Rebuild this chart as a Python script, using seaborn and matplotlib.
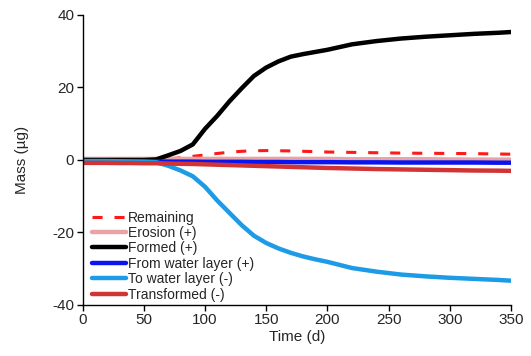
import numpy as np
import pandas as pd
import matplotlib
matplotlib.use("Agg")
import matplotlib.pyplot as plt
import seaborn as sns

# ----------------------------
# Data
# ----------------------------
time = [0, 10, 20, 30, 40, 50, 60, 70, 80, 90, 100, 110, 120, 130, 140, 150,
        160, 170, 180, 190, 200, 220, 240, 260, 280, 300, 320, 340, 350]

remaining = [0.0, 0.0, 0.0, 0.0, 0.0, 0.0, 0.0, 0.3, 0.6, 1.0, 1.4, 1.8, 2.15,
             2.4, 2.55, 2.6, 2.55, 2.5, 2.4, 2.3, 2.2, 2.1, 2.0, 1.9, 1.85,
             1.8, 1.75, 1.65, 1.6]
erosion = [0.3, 0.3, 0.3, 0.3, 0.3, 0.3, 0.3, 0.3, 0.3, 0.3, 0.3, 0.3, 0.3,
           0.3, 0.3, 0.3, 0.3, 0.3, 0.3, 0.3, 0.3, 0.2, 0.2, 0.2, 0.2, 0.15,
           0.1, 0.1, 0.1]
formed = [0.0, 0.0, 0.0, 0.0, 0.0, 0.0, 0.15, 1.3, 2.5, 4.3, 8.6, 12.2, 16.2,
          19.8, 23.2, 25.5, 27.2, 28.5, 29.2, 29.8, 30.4, 31.9, 32.8, 33.5,
          34.0, 34.4, 34.8, 35.1, 35.3]
from_water = [-0.4, -0.4, -0.4, -0.4, -0.4, -0.4, -0.4, -0.45, -0.45, -0.45,
              -0.5, -0.5, -0.5, -0.5, -0.55, -0.55, -0.55, -0.6, -0.6, -0.6,
              -0.6, -0.65, -0.65, -0.7, -0.7, -0.7, -0.7, -0.75, -0.75]
to_water = [-0.3, -0.3, -0.3, -0.35, -0.4, -0.45, -0.6, -1.6, -2.9, -4.5,
            -7.4, -11.2, -14.6, -18.0, -20.9, -22.9, -24.4, -25.6, -26.6,
            -27.4, -28.1, -29.8, -30.8, -31.6, -32.1, -32.5, -32.8, -33.1,
            -33.3]
transformed = [-0.8, -0.8, -0.8, -0.85, -0.85, -0.9, -0.9, -1.0, -1.05, -1.1,
               -1.2, -1.3, -1.4, -1.5, -1.6, -1.7, -1.8, -1.9, -2.0, -2.1,
               -2.2, -2.35, -2.5, -2.6, -2.7, -2.8, -2.9, -2.95, -3.0]

series = {
    'Remaining': remaining,
    'Erosion (+)': erosion,
    'Formed (+)': formed,
    'From water layer (+)': from_water,
    'To water layer (-)': to_water,
    'Transformed (-)': transformed,
}
colors = {
    'Remaining': '#ff1a1a',
    'Erosion (+)': '#e8a4a4',
    'Formed (+)': '#000000',
    'From water layer (+)': '#0a14f0',
    'To water layer (-)': '#1e9be6',
    'Transformed (-)': '#d03434',
}

df = pd.DataFrame([
    {'Time': t, 'Mass': v, 'Series': name}
    for name, vals in series.items() for t, v in zip(time, vals)
])

# ----------------------------
# Plot
# ----------------------------
sns.set_style('ticks')
plt.rcParams['font.family'] = ['Liberation Sans', 'DejaVu Sans']
plt.rcParams['axes.unicode_minus'] = False

fig = plt.figure(figsize=(5.31, 3.56), dpi=100)
ax = fig.add_axes([0.1557, 0.1433, 0.8066, 0.8146])

for name in series:
    sub = df[df['Series'] == name]
    kw = dict(lw=3.2)
    if name == 'Remaining':
        kw = dict(lw=2.2, dashes=(3.3, 3.9))
    sns.lineplot(data=sub, x='Time', y='Mass', color=colors[name],
                 label=name, ax=ax, **kw)

ax.set_xlim(0, 350)
ax.set_ylim(-40, 40)
ax.set_xticks(range(0, 351, 50))
ax.set_yticks([-40, -20, 0, 20, 40])
ax.set_xlabel('Time (d)', fontsize=11, labelpad=2)
ax.set_ylabel('Mass (µg)', fontsize=11, labelpad=17)
ax.tick_params(labelsize=11, length=4, width=1, color='black', pad=2)
for s in ['left', 'bottom']:
    ax.spines[s].set_color('black')
    ax.spines[s].set_linewidth(1)
sns.despine(ax=ax)

leg = ax.legend(loc='lower left', bbox_to_anchor=(0.006, -0.012), frameon=False,
                fontsize=10, handlelength=2.4, handletextpad=0.2,
                labelspacing=0.1, borderaxespad=0.3, borderpad=0.2)

fig.savefig('out.png', dpi=100)
